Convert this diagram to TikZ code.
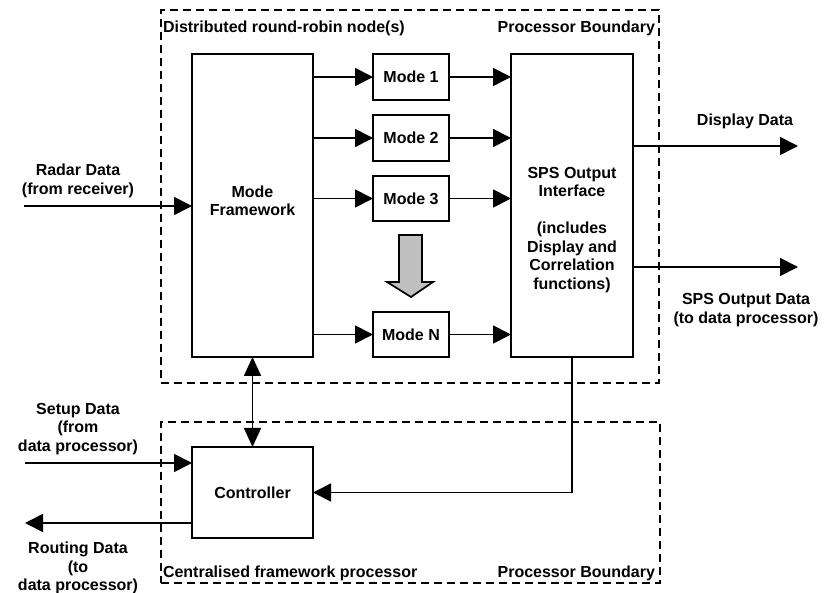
\documentclass[tikz,border=0pt]{standalone}
\usepackage{fontspec}
\setmainfont{Liberation Sans}
\usetikzlibrary{arrows.meta}
\definecolor{arrgray}{RGB}{192,192,192}
\begin{document}
\begin{tikzpicture}[x=1pt,y=-1pt,
  every node/.style={font=\fontsize{16}{18.5}\selectfont\bfseries, inner sep=0pt, outer sep=0pt},
  blk/.style={draw, line width=1.7pt, anchor=north west, align=center},
  lbl/.style={align=center},
  conn/.style={line width=1.7pt, -{Triangle[length=18pt,width=18pt]}},
  biconn/.style={line width=1.7pt, {Triangle[length=19pt,width=17pt]}-{Triangle[length=19pt,width=17pt]}},
  bound/.style={draw, dash pattern=on 8pt off 5pt, line width=1.7pt, anchor=north west}]
\useasboundingbox (0,0) rectangle (828,593);

% processor boundaries
\node[bound, minimum width=498pt, minimum height=373pt] (topbox) at (161,10) {};
\node[bound, minimum width=499pt, minimum height=161pt] (botbox) at (161,422) {};
\node[anchor=west] (toplbl) at (163,28) {Distributed round-robin node(s)};
\node[anchor=east] (topbnd) at (655,28) {Processor Boundary};
\node[anchor=west] (botlbl) at (163,573) {Centralised framework processor};
\node[anchor=east] (botbnd) at (655,573) {Processor Boundary};

% blocks
\node[blk, minimum width=121pt, minimum height=303pt] (mf) at (192,54) {};
\node[lbl] (mft) at (252.5,201) {Mode\\Framework};
\node[blk, minimum width=76pt, minimum height=46pt] (m1) at (373,54) {Mode 1};
\node[blk, minimum width=76pt, minimum height=46pt] (m2) at (373,115) {Mode 2};
\node[blk, minimum width=76pt, minimum height=45pt] (m3) at (373,176) {Mode 3};
\node[blk, minimum width=76pt, minimum height=45pt] (mn) at (373,312) {Mode N};
\node[blk, minimum width=122pt, minimum height=303pt] (sps) at (511,54) {};
\node[lbl] (spst) at (572,230) {SPS Output\\Interface\\[18.5pt](includes\\Display and\\Correlation\\functions)};
\node[blk, minimum width=121pt, minimum height=91pt] (ctrl) at (192,447) {Controller};

% grey "and so on" arrow
\draw[line width=1.7pt, fill=arrgray, line join=miter]
  (399,235) -- (422,235) -- (422,282) -- (433,282) -- (411,297) -- (387,282) -- (399,282) -- cycle;

% external labels
\node[lbl] (radarlbl) at (78,181) {Radar Data\\(from receiver)};
\node[lbl] (setuplbl) at (78,429) {Setup Data\\(from\\data processor)};
\node[lbl] (routlbl) at (78,568) {Routing Data\\(to\\data processor)};
\node[lbl] (displbl) at (745,121) {Display Data};
\node[lbl] (outlbl) at (746,310) {SPS Output Data\\(to data processor)};

% free ends
\coordinate (radarin) at (24,206);
\coordinate (setupin) at (25,463);
\coordinate (routout) at (25,523);
\coordinate (dispout) at (798,146);
\coordinate (spsout) at (798,267);

% connectors
\draw[conn] (radarin) -- (radarin -| mf.west);
\foreach \m in {m1,m2,m3,mn}{
  \draw[conn] (mf.east |- \m.west) -- (\m.west);
  \draw[conn] (\m.east) -- (\m.east -| sps.west);
}
\draw[conn] (dispout -| sps.east) -- (dispout);
\draw[conn] (spsout -| sps.east) -- (spsout);
\draw[biconn] (mf.south) -- (ctrl.north);
\draw[conn] (setupin) -- (setupin -| ctrl.west);
\draw[conn] (routout -| ctrl.west) -- (routout);
\draw[conn] (sps.south) |- (ctrl.east);
\end{tikzpicture}
\end{document}
